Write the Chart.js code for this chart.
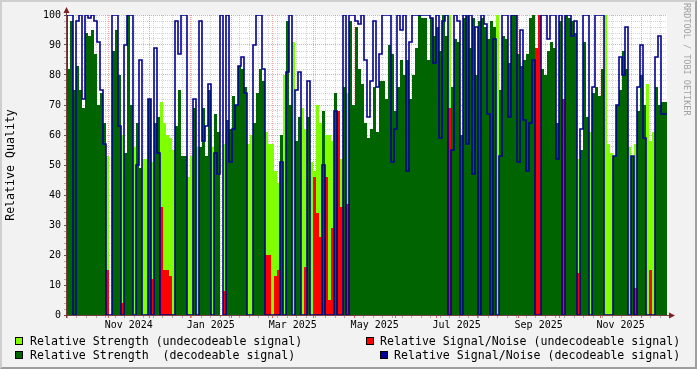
<!DOCTYPE html>
<html><head><meta charset="utf-8">
<script src="https://cdn.jsdelivr.net/npm/chart.js@4.4.1/dist/chart.umd.min.js"></script>
<style>
html,body{margin:0;padding:0;background:#F2F2F2;}
#wrap{position:relative;width:697px;height:369px;overflow:hidden;background:#F2F2F2;}
#c{position:absolute;left:0;top:0;}
.shade{position:absolute;left:0;top:0;width:697px;height:369px;box-sizing:border-box;border-top:2px solid #CFCFCF;border-left:2px solid #CFCFCF;border-right:2px solid #9E9E9E;border-bottom:2px solid #9E9E9E;pointer-events:none;}
.lg{position:absolute;font-family:'DejaVu Sans Mono',monospace;font-size:11.6px;line-height:14px;white-space:pre;color:#000;}
.bx{position:absolute;width:8px;height:8px;box-sizing:border-box;border:1px solid #000;}
#wm{position:absolute;left:682px;top:3px;writing-mode:vertical-rl;font-family:'DejaVu Sans Mono',monospace;font-size:8.5px;line-height:10px;color:#A0A0A0;white-space:pre;}
</style></head>
<body>
<div id="wrap">
<canvas id="c" width="697" height="369"></canvas>
<div class="bx" style="left:15px;top:337px;background:#80FF00"></div>
<div class="lg" style="left:30px;top:334px">Relative Strength (undecodeable signal)</div>
<div class="bx" style="left:15px;top:351px;background:#006400"></div>
<div class="lg" style="left:30px;top:348px">Relative Strength  (decodeable signal)</div>
<div class="bx" style="left:366px;top:337px;background:#FF0000"></div>
<div class="lg" style="left:380px;top:334px">Relative Signal/Noise (undecodeable signal)</div>
<div class="bx" style="left:380px;top:351px;background:#000096"></div>
<div class="lg" style="left:394px;top:348px">Relative Signal/Noise (decodeable signal)</div>
<div id="wm">RRDTOOL / TOBI OETIKER</div>
<div class="shade"></div>
</div>
<script>
// time axis in days since 1970-01-01
const sampleStartDay = 20009.77;
const sampleStepDays = 2.196;

const strengthDecodeable = [
55,82,98,75,83,75,69,94,93,95,
87,70,74,64,0,0,88,95,80,0,
54,100,70,0,64,49,0,0,72,0,
64,66,0,0,0,0,0,63,75,53,
53,0,0,69,0,56,69,53,75,0,
67,61,0,0,65,62,73,70,83,82,
76,0,0,64,74,82,78,0,0,0,
0,0,60,0,98,70,0,58,66,0,
0,66,0,0,0,0,68,0,0,0,
74,0,0,76,0,98,70,96,82,77,
64,59,62,76,61,78,78,72,90,87,
68,76,85,80,85,72,80,89,100,99,
99,85,99,93,96,88,100,93,0,76,
92,91,60,99,100,89,99,80,98,99,
96,92,98,96,0,75,93,92,84,100,
100,87,83,85,87,99,100,0,0,82,
80,88,91,89,64,98,0,100,99,98,
94,0,55,91,66,0,74,76,73,82,
0,0,0,53,70,75,88,82,0,53,
0,68,80,70,0,0,0,76,70,71];

const strengthUndecodeable = [
0,0,0,0,0,0,0,0,0,0,
0,0,0,0,53,0,0,0,0,60,
0,0,0,56,0,0,52,52,0,51,
0,0,71,64,60,59,55,0,0,0,
0,46,53,0,56,0,0,0,0,56,
0,0,0,57,0,0,0,0,0,0,
0,57,60,0,0,0,0,61,57,57,
48,44,0,80,0,0,91,0,0,69,
62,0,51,48,70,64,0,60,60,58,
0,52,52,0,74,0,0,0,0,0,
0,0,0,0,0,0,0,0,0,0,
0,0,0,0,0,0,0,0,0,0,
0,0,0,0,0,0,0,0,100,0,
0,0,0,0,0,0,0,0,0,0,
0,0,0,0,100,0,0,0,0,0,
0,0,0,0,0,0,0,0,78,0,
0,0,0,0,0,0,0,0,0,0,
0,52,0,0,0,61,0,0,0,0,
100,57,54,0,0,0,0,0,56,0,
57,0,0,0,77,58,61,0,0,0];

const snrUndecodeable = [
0,0,0,0,0,0,0,0,0,0,
0,0,0,0,15,0,0,0,0,4,
0,0,0,0,0,0,0,0,0,12,
0,0,36,15,15,13,0,0,0,0,
0,0,0,0,0,0,0,0,0,0,
0,0,0,8,0,0,0,0,0,0,
0,0,0,0,0,0,0,20,20,0,
13,15,0,0,0,0,0,0,0,0,
16,0,0,46,34,26,0,46,5,29,
0,68,36,0,37,0,0,0,0,0,
0,0,0,0,0,0,0,0,0,0,
0,0,0,0,0,0,0,0,0,0,
0,0,0,0,0,0,0,0,69,0,
0,0,0,0,0,0,0,0,0,0,
0,0,0,0,0,0,0,0,0,0,
0,0,0,0,0,0,0,89,100,0,
0,0,0,0,0,0,72,0,0,0,
0,14,0,0,0,0,0,0,0,0,
0,0,0,0,0,0,0,0,0,0,
9,0,0,0,0,15,0,0,0,0];

const snrDecodeable = [
82,100,100,0,98,100,72,100,99,100,
98,91,75,57,0,0,100,100,63,0,
90,100,100,0,50,85,0,0,72,0,
89,54,0,0,0,0,0,98,87,100,
100,0,0,72,0,98,58,63,77,0,
54,47,100,0,100,51,62,70,83,86,
74,0,0,90,100,100,82,0,0,0,
0,0,51,0,81,100,0,75,81,0,
0,78,0,0,0,0,50,0,0,0,
68,0,0,100,0,100,100,98,97,100,
85,66,78,98,76,87,100,100,100,51,
62,100,95,100,48,91,100,100,100,100,
100,100,99,84,100,59,98,100,0,55,
100,98,0,100,57,100,47,96,0,100,
97,67,0,92,0,53,100,100,66,100,
100,51,95,65,48,64,85,0,0,100,
100,92,100,100,52,100,0,100,100,93,
98,0,62,100,100,0,76,100,100,100,
0,0,0,53,70,86,80,96,0,53,
0,76,90,59,0,0,0,86,93,67];

const xTickLabels = ['Nov 2024','Jan 2025','Mar 2025','May 2025','Jul 2025','Sep 2025','Nov 2025'];
const labelTickDays = [20040,20100,20160,20220,20280,20340,20400];
const majorGridDays = [20040,20070,20100,20130,20160,20190,20220,20250,20280,20310,20340,20370,20400,20430];
const labelOffsetDays = 15;
const yTickLabels = ['0','10','20','30','40','50','60','70','80','90','100'];

const xMin = sampleStartDay;
const xMax = sampleStartDay + strengthDecodeable.length * sampleStepDays;

// x ticks: minor weekly grid, major 30-day grid, label positions
const xMeta = [];
for (let d = Math.ceil((xMin - 4) / 7) * 7 + 4; d <= xMax; d += 7) {
  if (!majorGridDays.includes(d)) xMeta.push({value: d, kind: 'minor'});
}
majorGridDays.forEach(d => xMeta.push({value: d, kind: 'major'}));
labelTickDays.forEach((d, i) => xMeta.push({value: d + labelOffsetDays, kind: 'label', label: xTickLabels[i]}));
xMeta.sort((a, b) => a.value - b.value);

const yMeta = [];
for (let v = 0; v <= 100; v += 2) {
  const k = v % 10 === 0;
  yMeta.push({value: v, kind: k ? 'major' : 'minor', label: k ? yTickLabels[v / 10] : ''});
}

function series(vals) {
  const pts = vals.map((v, i) => ({x: sampleStartDay + i * sampleStepDays, y: v}));
  pts.push({x: sampleStartDay + vals.length * sampleStepDays, y: vals[vals.length - 1]});
  return pts;
}

const MINOR = 'rgba(143,143,143,0.38)';
const MAJOR = 'rgba(222,79,79,0.5)';

const bgPlugin = {
  id: 'bg',
  beforeDraw(chart) {
    const {ctx, chartArea: a} = chart;
    ctx.save(); ctx.fillStyle = '#FFFFFF';
    ctx.fillRect(a.left, a.top, a.right - a.left, a.bottom - a.top);
    ctx.restore();
  },
  afterDraw(chart) {
    const {ctx, chartArea: a} = chart;
    ctx.save();
    ctx.strokeStyle = '#7a4040'; ctx.lineWidth = 1;
    ctx.beginPath();
    ctx.moveTo(a.left - 0.5, a.bottom + 3); ctx.lineTo(a.left - 0.5, a.top - 6);
    ctx.moveTo(a.left - 3, a.bottom + 0.5); ctx.lineTo(a.right + 5, a.bottom + 0.5);
    ctx.stroke();
    ctx.fillStyle = '#801F1F';
    ctx.beginPath();
    ctx.moveTo(a.left - 0.5, a.top - 8); ctx.lineTo(a.left - 3.5, a.top - 2); ctx.lineTo(a.left + 2.5, a.top - 2); ctx.closePath();
    ctx.fill();
    ctx.beginPath();
    ctx.moveTo(a.right + 8, a.bottom + 0.5); ctx.lineTo(a.right + 2, a.bottom - 2.5); ctx.lineTo(a.right + 2, a.bottom + 3.5); ctx.closePath();
    ctx.fill();
    ctx.restore();
  }
};

const monoFont = {family: "'DejaVu Sans Mono', monospace", size: 10};

new Chart(document.getElementById('c'), {
  type: 'line',
  data: {
    datasets: [
      {label: 'Relative Signal/Noise (decodeable signal)', data: series(snrDecodeable), borderColor: '#000090', borderWidth: 1.6, borderJoinStyle: 'miter', fill: false, stepped: 'after', pointRadius: 0, order: 0},
      {label: 'Relative Signal/Noise (undecodeable signal)', data: series(snrUndecodeable), borderColor: 'rgba(0,0,0,0)', backgroundColor: '#FF0000', borderWidth: 0, fill: 'origin', stepped: 'after', pointRadius: 0, order: 1},
      {label: 'Relative Strength  (decodeable signal)', data: series(strengthDecodeable), borderColor: 'rgba(0,0,0,0)', backgroundColor: '#006400', borderWidth: 0, fill: 'origin', stepped: 'after', pointRadius: 0, order: 2},
      {label: 'Relative Strength (undecodeable signal)', data: series(strengthUndecodeable), borderColor: 'rgba(0,0,0,0)', backgroundColor: '#80FF00', borderWidth: 0, fill: 'origin', stepped: 'after', pointRadius: 0, order: 3}
    ]
  },
  options: {
    responsive: false,
    devicePixelRatio: 1,
    animation: false,
    events: [],
    layout: {padding: {top: 15, right: 30, bottom: 0, left: 0}},
    plugins: {legend: {display: false}, tooltip: {enabled: false}},
    scales: {
      x: {
        type: 'linear', position: 'bottom', min: xMin, max: xMax, z: 1,
        afterBuildTicks: s => { s.ticks = xMeta.map(m => ({value: m.value})); },
        afterFit: s => { s.height = 54; },
        grid: {
          lineWidth: 1, drawTicks: true, tickLength: 3, tickBorderDash: [10, 0],
          color: c => { const m = xMeta[c.index]; return !m || m.kind === 'label' ? 'rgba(0,0,0,0)' : (m.kind === 'major' ? MAJOR : MINOR); },
          tickColor: c => { const m = xMeta[c.index]; return !m || m.kind === 'label' ? 'rgba(0,0,0,0)' : (m.kind === 'major' ? 'rgba(222,79,79,0.9)' : 'rgba(143,143,143,0.7)'); }
        },
        border: {display: false, dash: [1, 1]},
        ticks: {autoSkip: false, maxRotation: 0, minRotation: 0, padding: 1, font: monoFont, color: '#000',
          callback: (v, i) => (xMeta[i] && xMeta[i].label) || ''}
      },
      y: {
        type: 'linear', position: 'left', min: 0, max: 100, z: 1,
        afterBuildTicks: s => { s.ticks = yMeta.map(m => ({value: m.value})); },
        afterFit: s => { s.width = 67; },
        grid: {
          lineWidth: 1, drawTicks: true, tickLength: 3, tickBorderDash: [10, 0],
          color: c => { const m = yMeta[c.index]; return !m || m.value === 0 ? 'rgba(0,0,0,0)' : (m.kind === 'major' ? MAJOR : MINOR); },
          tickColor: c => { const m = yMeta[c.index]; return m && m.kind === 'major' ? '#555555' : 'rgba(143,143,143,0.7)'; }
        },
        border: {display: false, dash: [1, 1]},
        ticks: {autoSkip: false, padding: 3, font: monoFont, color: '#000',
          callback: (v, i) => (yMeta[i] && yMeta[i].label) || ''},
        title: {display: true, text: 'Relative Quality', color: '#000', font: {family: "'DejaVu Sans Mono', monospace", size: 11.6}, padding: {top: 4, bottom: 0}}
      }
    }
  },
  plugins: [bgPlugin]
});
</script>
</body></html>
